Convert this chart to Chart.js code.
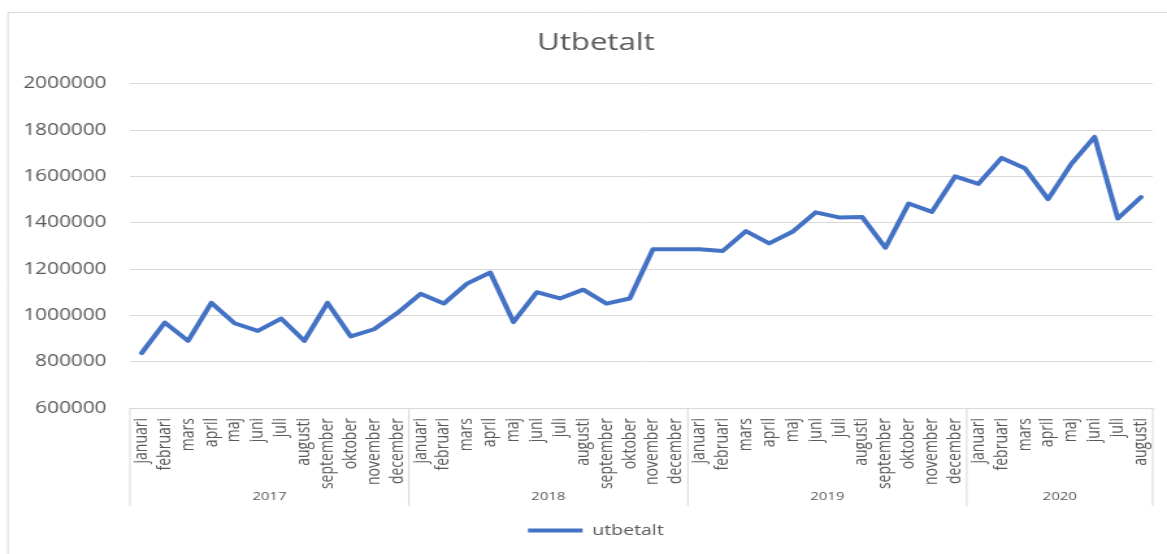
<!DOCTYPE html>
<html><head><meta charset="utf-8">
<script src="https://cdn.jsdelivr.net/npm/chart.js@4"></script>
<style>
html,body{margin:0;padding:0;background:#fff;overflow:hidden;width:1167px;height:554px;}
#wrap{position:absolute;left:0;top:0;width:898px;height:554px;transform:scaleX(1.29955);transform-origin:0 0;}
canvas{display:block;}
</style></head><body>
<div id="wrap"><canvas id="c" width="898" height="554"></canvas></div>
<script>
// ---- data ----
const chartTitle = 'Utbetalt';
const seriesName = 'utbetalt';
const years = ['2017', '2018', '2019', '2020'];
const monthNames = ['januari','februari','mars','april','maj','juni','juli','augusti','september','oktober','november','december'];
const values2017 = [837000, 969000, 890000, 1054000, 966000, 933000, 986000, 890000, 1054000, 909000, 940000, 1010000];
const values2018 = [1093000, 1051000, 1137000, 1185000, 971000, 1100000, 1073000, 1111000, 1051000, 1073000, 1286000, 1286000];
const values2019 = [1286000, 1278000, 1364000, 1311000, 1361000, 1445000, 1423000, 1425000, 1292000, 1483000, 1447000, 1600000];
const values2020 = [1568000, 1680000, 1635000, 1502000, 1654000, 1771000, 1418000, 1511000];
const yTickValues = [600000, 800000, 1000000, 1200000, 1400000, 1600000, 1800000, 2000000];

// ---- build ----
const valuesByYear = [values2017, values2018, values2019, values2020];
const labels = [];
const values = [];
valuesByYear.forEach(arr => {
  arr.forEach((v, i) => { labels.push(monthNames[i]); values.push(v); });
});

const FONT = "'Open Sans', 'Liberation Sans', sans-serif";
const TEXT = '#595959';
const LINE = '#d9d9d9';
const S = 1167 / 898;

const yearGroups = {
  id: 'yearGroups',
  afterLayout(chart) {
    // let the y tick labels use the space left of the axis box (no clipping)
    chart.scales.y.left = 0;
  },
  beforeDraw(chart) {
    const ctx = chart.ctx;
    ctx.save();
    ctx.fillStyle = '#ffffff';
    ctx.fillRect(0, 0, chart.width, chart.height);
    ctx.strokeStyle = LINE;
    ctx.lineWidth = 1;
    ctx.beginPath();
    ctx.moveTo(8 / S, chart.height + 5);
    ctx.lineTo(8 / S, 12.5);
    ctx.lineTo(chart.width + 5, 12.5);
    ctx.stroke();
    ctx.restore();
  },
  afterDraw(chart) {
    const ctx = chart.ctx;
    const xs = chart.scales.x;
    const half = (xs.getPixelForValue(1) - xs.getPixelForValue(0)) / 2;
    const top = xs.top;
    const bottom = xs.bottom;
    ctx.save();
    ctx.strokeStyle = LINE;
    ctx.lineWidth = 1;
    ctx.fillStyle = TEXT;
    ctx.font = "11.5px " + FONT;
    ctx.textAlign = 'center';
    ctx.textBaseline = 'middle';
    let start = 0;
    const left0 = xs.getPixelForValue(0) - half;
    ctx.beginPath();
    ctx.moveTo(left0, top);
    ctx.lineTo(left0, bottom);
    ctx.stroke();
    valuesByYear.forEach((arr, gi) => {
      const end = start + arr.length - 1;
      const xl = xs.getPixelForValue(start) - half;
      const xr = xs.getPixelForValue(end) + half;
      ctx.beginPath();
      ctx.moveTo(xr, top);
      ctx.lineTo(xr, bottom);
      ctx.stroke();
      ctx.fillText(years[gi], (xl + xr) / 2, bottom - 9);
      start += arr.length;
    });
    ctx.restore();
  }
};

new Chart(document.getElementById('c'), {
  type: 'line',
  data: {
    labels: labels,
    datasets: [{
      label: seriesName,
      data: values,
      borderColor: '#4472C4',
      backgroundColor: '#4472C4',
      borderWidth: 4,
      pointRadius: 0,
      pointHoverRadius: 0,
      tension: 0,
      borderJoinStyle: 'round',
      borderCapStyle: 'round',
      fill: false
    }]
  },
  options: {
    responsive: false,
    animation: false,
    events: [],
    layout: { padding: { left: 30, right: 11, top: 0, bottom: 6 } },
    plugins: {
      title: {
        display: true,
        text: chartTitle,
        color: TEXT,
        font: { family: FONT, size: 24, weight: 'normal' },
        padding: { top: 29, bottom: 26 }
      },
      legend: {
        position: 'bottom',
        labels: {
          usePointStyle: true,
          pointStyle: 'line',
          pointStyleWidth: 42,
          color: TEXT,
          font: { family: FONT, size: 15 },
          padding: 17
        }
      },
      tooltip: { enabled: false }
    },
    scales: {
      x: {
        type: 'category',
        offset: true,
        grid: { display: false, drawTicks: false },
        border: { display: true, color: LINE, width: 1 },
        ticks: {
          autoSkip: false,
          minRotation: 90,
          maxRotation: 90,
          padding: 10,
          color: TEXT,
          font: { family: FONT, size: 14 }
        },
        afterFit(scale) { scale.height = 98; scale.paddingLeft = 0; scale.paddingRight = 0; }
      },
      y: {
        min: yTickValues[0],
        max: yTickValues[yTickValues.length - 1],
        grid: { color: LINE, lineWidth: 1, drawTicks: false },
        border: { display: false },
        afterBuildTicks(scale) { scale.ticks = yTickValues.map(v => ({ value: v })); },
        ticks: {
          padding: 18,
          color: TEXT,
          font: { family: FONT, size: 16 },
          callback: v => String(v)
        },
        afterFit(scale) { scale.width = 70; }
      }
    }
  },
  plugins: [yearGroups]
});
</script>
</body></html>
